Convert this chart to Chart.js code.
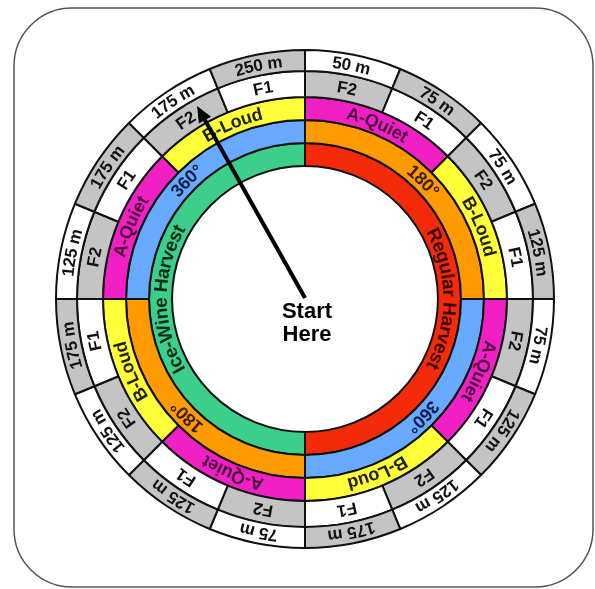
<!DOCTYPE html>
<html>
<head>
<meta charset="utf-8">
<script src="https://cdn.jsdelivr.net/npm/chart.js@4"></script>
<style>
  html, body { margin: 0; padding: 0; background: #fff; }
  canvas { display: block; }
</style>
</head>
<body>
<canvas id="wheel" width="595" height="589"></canvas>
<script>
// ring data, outermost first; each slice is one equal step round the wheel
const distanceLabels = ["50 m", "75 m", "75 m", "125 m", "75 m", "125 m", "125 m", "175 m",
                        "75 m", "125 m", "125 m", "175 m", "125 m", "175 m", "175 m", "250 m"];
const distanceValues = [1, 1, 1, 1, 1, 1, 1, 1, 1, 1, 1, 1, 1, 1, 1, 1];

const fieldLabels = ["F2", "F1", "F2", "F1", "F2", "F1", "F2", "F1",
                     "F2", "F1", "F2", "F1", "F2", "F1", "F2", "F1"];
const fieldValues = [1, 1, 1, 1, 1, 1, 1, 1, 1, 1, 1, 1, 1, 1, 1, 1];

const soundLabels = ["A-Quiet", "B-Loud", "A-Quiet", "B-Loud", "A-Quiet", "B-Loud", "A-Quiet", "B-Loud"];
const soundValues = [1, 1, 1, 1, 1, 1, 1, 1];

const turnLabels = ["180°", "360°", "180°", "360°"];
const turnValues = [1, 1, 1, 1];

const harvestLabels = ["Regular Harvest", "Ice-Wine Harvest"];
const harvestValues = [1, 1];

const centerText = ["Start", "Here"];

// colours
const GRAY = "#c4c4c4";
const WHITE = "#ffffff";
const MAGENTA = "#f020c4";
const YELLOW = "#ffff3a";
const ORANGE = "#ff9a00";
const BLUE = "#68aaff";
const RED = "#f52a0a";
const GREEN = "#3ccf8a";

const textColor = {};
textColor[GRAY] = "#111111";
textColor[WHITE] = "#111111";
textColor[MAGENTA] = "#4a0a3c";
textColor[YELLOW] = "#222200";
textColor[ORANGE] = "#3a2000";
textColor[BLUE] = "#0c1c40";
textColor[RED] = "#3a0800";
textColor[GREEN] = "#0a2a1a";

function arcText(ctx, text, cx, cy, r, mid, font, color) {
  ctx.save();
  ctx.font = font;
  ctx.fillStyle = color;
  ctx.textAlign = "center";
  ctx.textBaseline = "middle";
  const total = ctx.measureText(text).width;
  let a = mid - total / 2 / r;
  for (const ch of text) {
    const w = ctx.measureText(ch).width;
    const ang = a + w / 2 / r;
    ctx.save();
    ctx.translate(cx + r * Math.cos(ang), cy + r * Math.sin(ang));
    ctx.rotate(ang + Math.PI / 2);
    ctx.fillText(ch, 0, 1);
    ctx.restore();
    a += w / r;
  }
  ctx.restore();
}

const ringLabels = {
  id: "ringLabels",
  beforeDraw(chart) {
    const ctx = chart.ctx;
    // rounded frame
    ctx.save();
    ctx.strokeStyle = "#555";
    ctx.lineWidth = 1.5;
    ctx.beginPath();
    ctx.roundRect(14, 8, 579, 579, 58);
    ctx.stroke();
    ctx.restore();
  },
  afterDatasetsDraw(chart) {
    const ctx = chart.ctx;
    chart.data.datasets.forEach((ds, i) => {
      const meta = chart.getDatasetMeta(i);
      meta.data.forEach((arc, j) => {
        const p = arc.getProps(["x", "y", "startAngle", "endAngle", "innerRadius", "outerRadius"], true);
        const mid = (p.startAngle + p.endAngle) / 2;
        const r = (p.innerRadius + p.outerRadius) / 2;
        const bg = ds.backgroundColor[j];
        arcText(ctx, ds.labels[j], p.x, p.y, r, mid, ds.labelFont, textColor[bg] || "#111");
      });
    });

    const area = chart.chartArea;
    const cx = (area.left + area.right) / 2;
    const cy = (area.top + area.bottom) / 2;

    // arrow from the centre out to the F ring
    const ang = -Math.PI / 2 - 0.51;
    const len = 221;
    const tx = cx + len * Math.cos(ang);
    const ty = cy + len * Math.sin(ang);
    const head = 16;
    const bx = tx - head * Math.cos(ang);
    const by = ty - head * Math.sin(ang);
    ctx.save();
    ctx.strokeStyle = "#000";
    ctx.fillStyle = "#000";
    ctx.lineWidth = 4;
    ctx.beginPath();
    ctx.moveTo(cx, cy - 1);
    ctx.lineTo(bx, by);
    ctx.stroke();
    const nx = -Math.sin(ang), ny = Math.cos(ang);
    ctx.beginPath();
    ctx.moveTo(tx, ty);
    ctx.lineTo(bx + nx * 7, by + ny * 7);
    ctx.lineTo(bx - nx * 7, by - ny * 7);
    ctx.closePath();
    ctx.fill();

    ctx.font = "bold 22px 'Liberation Sans', Arial, sans-serif";
    ctx.textAlign = "center";
    ctx.textBaseline = "middle";
    ctx.fillText(centerText[0], cx + 2, cy + 13);
    ctx.fillText(centerText[1], cx + 2, cy + 36);
    ctx.restore();
  }
};

const fontA = "bold 17px 'Liberation Sans', Arial, sans-serif";
const fontB = "bold 18px 'Liberation Sans', Arial, sans-serif";
const fontC = "bold 19px 'Liberation Sans', Arial, sans-serif";

new Chart(document.getElementById("wheel").getContext("2d"), {
  type: "doughnut",
  data: {
    labels: distanceLabels,
    datasets: [
      {
        data: distanceValues,
        labels: distanceLabels,
        labelFont: fontA,
        backgroundColor: distanceValues.map((v, i) => (i % 2 ? GRAY : WHITE)),
        weight: 21,
      },
      {
        data: fieldValues,
        labels: fieldLabels,
        labelFont: fontA,
        backgroundColor: fieldValues.map((v, i) => (i % 2 ? WHITE : GRAY)),
        weight: 26,
      },
      {
        data: soundValues,
        labels: soundLabels,
        labelFont: fontB,
        backgroundColor: soundValues.map((v, i) => (i % 2 ? YELLOW : MAGENTA)),
        weight: 23,
      },
      {
        data: turnValues,
        labels: turnLabels,
        labelFont: fontB,
        backgroundColor: turnValues.map((v, i) => (i % 2 ? BLUE : ORANGE)),
        weight: 23,
      },
      {
        data: harvestValues,
        labels: harvestLabels,
        labelFont: fontC,
        backgroundColor: [RED, GREEN],
        weight: 23,
      },
    ],
  },
  options: {
    responsive: false,
    animation: false,
    radius: 249,
    cutout: "53.4%",
    borderColor: "#111",
    borderWidth: 2,
    layout: { padding: { left: 15, top: 9, right: 0, bottom: 0 } },
    elements: { arc: { borderColor: "#111", borderWidth: 2 } },
    plugins: { legend: { display: false }, tooltip: { enabled: false } },
  },
  plugins: [ringLabels],
});
</script>
</body>
</html>
